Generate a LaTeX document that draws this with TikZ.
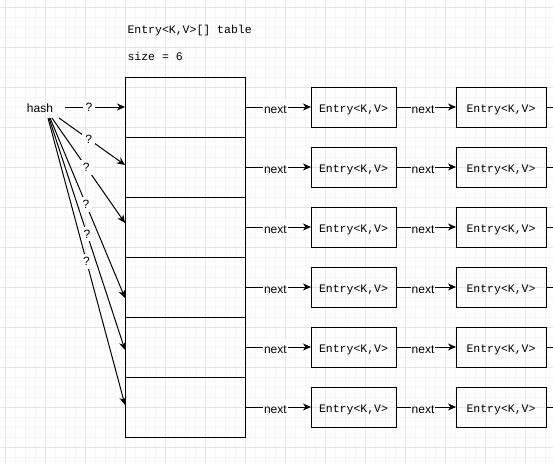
\documentclass[tikz,border=0pt]{standalone}
\usepackage{fontspec}
\setmainfont{Liberation Sans}
\setmonofont{Liberation Mono}
\usetikzlibrary{arrows.meta,positioning}

\tikzset{every picture/.style={line width=1pt}}
\tikzset{
cell/.style={draw, outer sep=0, minimum width=120, minimum height=60},
entry/.style={draw, outer sep=0, minimum height=40, inner sep=0,
    text height=10, text depth=0,
    font=\ttfamily\fontsize{11.5}{13}\selectfont},
code/.style={anchor=west, inner sep=0, font=\ttfamily\fontsize{11.5}{13}\selectfont},
plain/.style={inner sep=0, font=\fontsize{12}{14}\selectfont},
qmark/.style={fill=white, inner sep=3, font=\fontsize{12}{14}\selectfont},
nextlabel/.style={fill=white, inner sep=1, text height=13, text depth=0,
    font=\fontsize{12}{14}\selectfont},
link/.style={-{Stealth[length=8, width=7, inset=2.5]}},
minorgrid/.style={line width=0.8pt, color={rgb, 255:red, 245; green, 245; blue, 245}},
majorgrid/.style={line width=0.8pt, color={rgb, 255:red, 230; green, 230; blue, 230}}}

\begin{document}
\begin{tikzpicture}[x=1pt,y=1pt,yscale=-1,xscale=1]

    \useasboundingbox (0,0) rectangle (553,463);
    \clip (0,0) rectangle (553,463);

    % background grid
    \begin{scope}[shift={(5,7)}]
        \draw[minorgrid] (-10,-10) grid[step=10] (560,470);
        \draw[majorgrid] (-40,-40) grid[step=40] (560,480);
    \end{scope}

    \node[code] (title) at (127,30.5) {Entry<K,V>[] table};
    \node[code] (size) at (127,56) {size = 6};

    \def\rows{107,167,227,287,347,407}

    \foreach \y [count=\i] in \rows{
        \node[cell] (cell\i) at (185,\y) {};
        \node[entry, minimum width=85] (ea\i) at (353.5,\y) {Entry<K,V>};
        \node[entry, minimum width=90] (eb\i) at (501,\y) {Entry<K,V>};
        \coordinate (tail\i) at (570,\y);
        \draw[link] (cell\i.east) -- node[nextlabel, pos=.46] {next} (ea\i.west);
        \draw[link] (ea\i.east) -- node[nextlabel, pos=.45] {next} (eb\i.west);
        \draw (eb\i.east) -- (tail\i);
    }

    \node[plain] (hash) at (40,108) {hash};

    % where the hash arrows leave
    \coordinate (h1) at (65,107);
    \coordinate (h2) at (59,118);
    \coordinate (h3) at (52,118);
    \coordinate (h4) at (50,118);
    \coordinate (h5) at (49,118);
    \coordinate (h6) at (48,118);

    \draw[link] (h1) -- node[qmark, pos=.4] {?} (cell1.west);
    \draw[link] (h2) -- node[qmark, pos=.45] {?} ([yshift=-2]cell2.west);
    \draw[link] (h3) -- node[qmark, pos=.47] {?} ([yshift=-4]cell3.west);
    \draw[link] (h4) -- node[qmark, pos=.48] {?} ([yshift=11]cell4.west);
    \draw[link] (h5) -- node[qmark, pos=.5] {?} ([yshift=3]cell5.west);
    \draw[link] (h6) -- node[qmark, pos=.5] {?} ([yshift=-2]cell6.west);

\end{tikzpicture}
\end{document}
